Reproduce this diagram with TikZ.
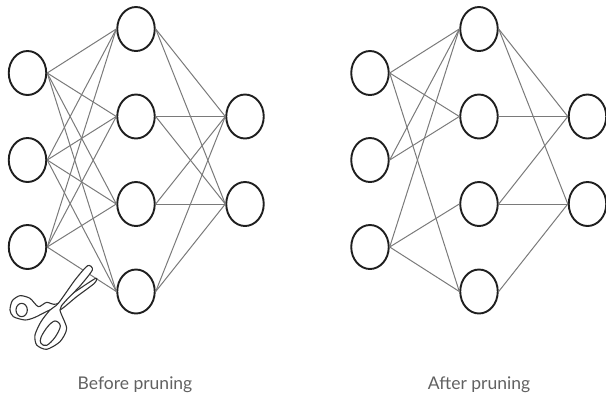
\documentclass[tikz,border=0pt]{standalone}
\usepackage{fontspec}
\setmainfont{Lato}
\usetikzlibrary{shapes.geometric}
\tikzset{
  neuron/.style={draw=black!88,line width=1.9pt,ellipse,minimum width=37.5pt,minimum height=44pt,inner sep=0pt,fill=white},
  link/.style={draw=black!52,line width=1pt},
  captiontext/.style={text=black!62,font=\fontsize{17.5}{19}\selectfont,inner sep=0pt},
  cutter/.style={draw=black!80,fill=white,line width=1.1pt,line join=round}
}
\begin{document}
\begin{tikzpicture}[x=1pt,y=-1pt]
\useasboundingbox (0,0) rectangle (606,399);
% before pruning
\node[neuron] (a1) at (27.5,73) {};
\node[neuron] (a2) at (27.5,160) {};
\node[neuron] (a3) at (27.5,247) {};
\node[neuron] (b1) at (136,29) {};
\node[neuron] (b2) at (136,116.5) {};
\node[neuron] (b3) at (136,204) {};
\node[neuron] (b4) at (136,291.5) {};
\node[neuron] (c1) at (245,116.5) {};
\node[neuron] (c2) at (245,204) {};
\foreach \i in {1,2,3}\foreach \j in {1,2,3,4}{\draw[link] (a\i.east) -- (b\j.west);}
\foreach \i in {1,2,3,4}\foreach \j in {1,2}{\draw[link] (b\i.east) -- (c\j.west);}
% after pruning
\node[neuron] (d1) at (370,73) {};
\node[neuron] (d2) at (370,160) {};
\node[neuron] (d3) at (370,247) {};
\node[neuron] (e1) at (479,29) {};
\node[neuron] (e2) at (479,116.5) {};
\node[neuron] (e3) at (479,204) {};
\node[neuron] (e4) at (479,291.5) {};
\node[neuron] (f1) at (587.5,116.5) {};
\node[neuron] (f2) at (587.5,204) {};
\foreach \s/\t in {d1/e1,d1/e2,d1/e4,d2/e1,d2/e2,d3/e1,d3/e3,d3/e4,e1/f1,e1/f2,e2/f1,e3/f1,e3/f2,e4/f2}{\draw[link] (\s.east) -- (\t.west);}
% scissors
\begin{scope}[shift={(5,260)},x=0.3333pt,y=-0.3333pt]
\draw[cutter] plot[smooth cycle,tension=0.45] coordinates {(272,55) (268,70) (215,110) (165,150) (135,150) (90,172) (60,180) (25,170) (15,150) (22,122) (45,107) (75,115) (100,140) (125,127) (155,132) (215,92)};
\draw[cutter] (50,150) ellipse[x radius=17,y radius=20];
\draw[cutter] plot[smooth cycle,tension=0.45] coordinates {(248,17) (262,30) (225,78) (180,125) (165,150) (185,205) (165,245) (125,268) (95,255) (90,225) (108,185) (135,150) (160,130) (210,60)};
\draw[cutter] plot[smooth cycle,tension=0.6] coordinates {(150,183) (166,198) (150,232) (125,256) (108,250) (108,232) (128,200)};
\end{scope}
\node[captiontext] (t1) at (135,385) {Before pruning};
\node[captiontext] (t2) at (479,385) {After pruning};
\end{tikzpicture}
\end{document}
